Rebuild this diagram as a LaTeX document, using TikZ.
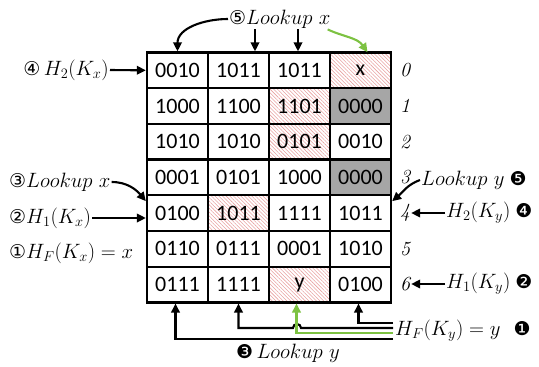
\documentclass[tikz,border=0pt]{standalone}
\usepackage{fontspec}
\usetikzlibrary{arrows.meta,patterns.meta}
\newfontfamily\cellfont{Carlito}
\newfontfamily\symfont{DejaVu Sans}
\definecolor{lgreen}{RGB}{125,194,66}
\definecolor{hatchc}{RGB}{232,160,160}
\definecolor{cgray}{RGB}{166,166,166}
\begin{document}
\begin{tikzpicture}[x=1pt,y=1pt,
  cell/.style={draw, line width=2.3pt, minimum width=61pt, minimum height=35.7pt, inner sep=0pt,
    font=\cellfont\fontsize{22}{24}\selectfont},
  cplain/.style={},
  chatch/.style={pattern={Lines[angle=135,distance=2.6pt,line width=0.55pt]}, pattern color=hatchc},
  cdark/.style={fill=cgray},
  lab/.style={font=\fontsize{21}{24}\selectfont, inner sep=1pt},
  sy/.style={font=\symfont\fontsize{19}{20}\selectfont},
  rowlab/.style={font=\fontsize{20}{22}\selectfont\itshape, inner sep=1pt},
  arr/.style={line width=2.1pt, -{Triangle[length=9pt,width=8.5pt]}},
  garr/.style={arr, color=lgreen},
]
\newcommand\circnum[1]{{\symfont\fontsize{19}{20}\selectfont #1}}
\useasboundingbox (0,0) rectangle (539,-367);

% cells
\foreach [count=\r from 0] \row in {
  {0010/cplain,1011/cplain,1011/cplain,x/chatch},
  {1000/cplain,1100/cplain,1101/chatch,0000/cdark},
  {1010/cplain,1010/cplain,0101/chatch,0010/cplain},
  {0001/cplain,0101/cplain,1000/cplain,0000/cdark},
  {0100/cplain,1011/chatch,1111/cplain,1011/cplain},
  {0110/cplain,0111/cplain,0001/cplain,1010/cplain},
  {0111/cplain,1111/cplain,y/chatch,0100/cplain}}{
  \foreach [count=\c from 0] \v/\s in \row {
    \node[cell,\s] (c\r\c) at ({177.5+61*\c},{-70.35-35.7*\r}) {\v};
  }
}

% row labels
\foreach \r in {0,...,6}
  \node[rowlab] (r\r) at (405,{-70.35-35.7*\r}) {\r};

% top
\node[lab, anchor=west] (lx) at (228,-19) {\circnum{⑤}$Lookup\ x$};
\coordinate (t1) at ([xshift=16.5pt]c01.north);
\coordinate (t2) at ([xshift=-1.5pt]c02.north);
\draw[arr] (lx.west) to[out=180,in=90] (c00.north);
\draw[arr] (lx.south -| t1) -- (t1);
\draw[arr] (lx.south -| t2) -- (t2);
\draw[garr] ([xshift=-4pt]lx.south east) to[out=-25,in=125] ([xshift=7pt]c03.north);

% left
\node[lab, anchor=east] (l4) at (110,-70) {\circnum{④}\,$H_2(K_x)$};
\draw[arr] (l4.east) -- (c00.west);
\node[lab, anchor=west] (l3) at (8,-182) {\circnum{③}$Lookup\ x$};
\draw[arr] (l3.east) to[out=0,in=130] ([yshift=-7pt]c40.north west);
\node[lab, anchor=west] (l2) at (8,-218) {\circnum{②}$H_1(K_x)$};
\draw[arr] (l2.east) -- (l2.east -| c40.west);
\node[lab, anchor=west] (l1) at (8,-253) {\circnum{①}$H_F(K_x) = x$};

% right
\node[lab, anchor=west] (ry) at (420,-180) {$Lookup\ y$\hspace{5pt}\circnum{❺}};
\draw[arr] (ry.west) to[out=200,in=40] ([yshift=-7pt]c43.north east);
\node[lab, anchor=west] (rh2) at (445,-213) {$H_2(K_y)$\hspace{5pt}\circnum{❹}};
\draw[arr] (rh2.west) -- (rh2.west -| r4.east);
\node[lab, anchor=west] (rh1) at (445,-284) {$H_1(K_y)$\hspace{5pt}\circnum{❷}};
\draw[arr] (rh1.west) -- (rh1.west -| r6.east);

% bottom
\node[lab, anchor=west] (hf) at (394,-331) {$H_F(K_y) = y$\hspace{13pt}\circnum{❶}};
\coordinate (e1) at (393,-323);
\coordinate (e2) at (393,-328);
\coordinate (e3) at (393,-333);
\coordinate (e4) at (393,-339);
\draw[arr] (e1) -| ([xshift=-2pt]c63.south);
\draw[arr] (e2) -- (301,-328) arc[start angle=0,end angle=180,radius=4] -| (c61.south);
\draw[garr] (e3) -| ([xshift=-3pt]c62.south);
\draw[arr] (e4) -| ([xshift=-2pt]c60.south);
\node[lab] (l3y) at (288,-353) {\circnum{❸}\,$Lookup\ y$};
\end{tikzpicture}
\end{document}
